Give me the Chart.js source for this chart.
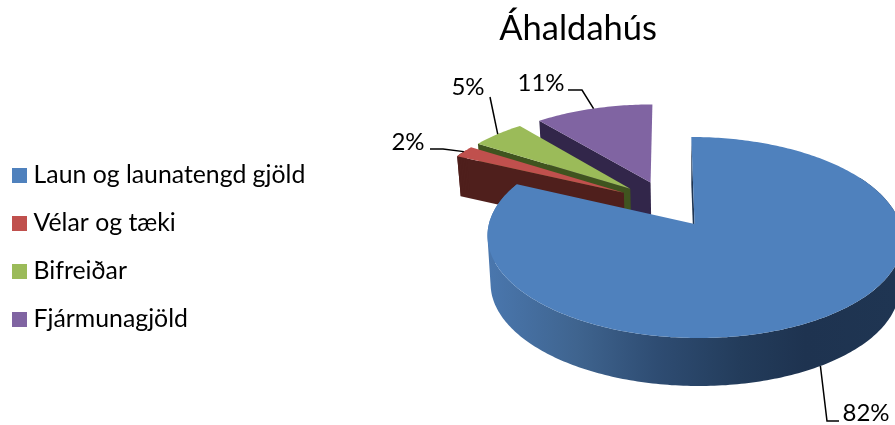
<!DOCTYPE html>
<html>
<head>
<meta charset="utf-8">
<style>
  html, body { margin: 0; padding: 0; background: #fff; }
  canvas { display: block; }
</style>
<script src="https://cdn.jsdelivr.net/npm/chart.js@4"></script>
</head>
<body>
<canvas id="chart" width="895" height="425"></canvas>
<script>
const titleText = 'Áhaldahús';
const categories = ['Laun og launatengd gjöld', 'Vélar og tæki', 'Bifreiðar', 'Fjármunagjöld'];
const shares = [82, 2, 5, 11];
const topColors = ['#4f81bd', '#c0504d', '#9bbb59', '#8064a2'];
const wallColors = ['#1f3552', '#4f1f1c', '#40541f', '#32264a'];
const wallDepths = [48, 40, 40, 40];

// label centres and the leader line bends, in page pixels
const labelSpots = [[866, 413], [408, 142], [468, 87], [541, 83]];
const leaderBends = [
  [[827, 421], [839, 421]],
  [[443, 149], [430, 149]],
  [[490, 97]],
  [[582, 90], [568, 90]]
];

const FONT = 'Lato, "Open Sans", sans-serif';
const TEXT = '#000';

// camera: the pie plane is tilted, near parts are drawn bigger
const view = { x: 667, y: 203.75, tilt: 0.4668, persp: 0.000652, shrink: 0.985, vanishX: 694 };

function project(u, v) {
  const w = 1 - view.persp * v;
  return { x: view.x + u / w, y: view.y + view.tilt * v / w };
}

function lower(p, depth) {
  return { x: view.vanishX + (p.x - view.vanishX) * view.shrink, y: p.y + depth };
}

function rimPoint(arc, angle) {
  const mid = (arc.startAngle + arc.endAngle) / 2;
  const off = arc.options.offset;
  const r = arc.outerRadius;
  return project(Math.cos(angle) * r + Math.cos(mid) * off, Math.sin(angle) * r + Math.sin(mid) * off);
}

function tipPoint(arc) {
  const mid = (arc.startAngle + arc.endAngle) / 2;
  return project(Math.cos(mid) * arc.options.offset, Math.sin(mid) * arc.options.offset);
}

function rimPoints(arc, from, to) {
  const pts = [];
  const steps = Math.max(4, Math.ceil((to - from) * 60));
  for (let i = 0; i <= steps; i++) {
    pts.push(rimPoint(arc, from + (to - from) * i / steps));
  }
  return pts;
}

function tracePoly(ctx, pts) {
  pts.forEach((p, i) => (i ? ctx.lineTo(p.x, p.y) : ctx.moveTo(p.x, p.y)));
  ctx.closePath();
}

function fillPoly(ctx, pts, fill) {
  ctx.beginPath();
  tracePoly(ctx, pts);
  ctx.fillStyle = fill;
  ctx.fill();
}

// strips must all wind the same way or overlapping ones cancel out in one path
function sameWinding(pts) {
  let area = 0;
  pts.forEach((p, i) => {
    const q = pts[(i + 1) % pts.length];
    area += p.x * q.y - q.x * p.y;
  });
  return area < 0 ? pts.slice().reverse() : pts;
}

const pie3d = {
  id: 'pie3d',
  beforeDatasetsDraw(chart) {
    const ctx = chart.ctx;
    const arcs = chart.getDatasetMeta(0).data;
    // purple first, big blue piece last so the front covers the back
    const order = [3, 2, 1, 0];

    order.forEach((i) => {
      const arc = arcs[i];
      const depth = wallDepths[i];
      const tip = tipPoint(arc);

      // the cut face turned towards us
      const edge = rimPoint(arc, arc.startAngle);
      fillPoly(ctx, [tip, edge, lower(edge, depth), lower(tip, depth)], wallColors[i]);

      // the round outer wall, only where it faces us
      const from = Math.max(arc.startAngle, -Math.PI / 6);
      const to = Math.min(arc.endAngle, Math.PI * 7 / 6);
      if (to > from) {
        let fill = wallColors[i];
        if (i === 0) {
          fill = ctx.createLinearGradient(487, 0, 895, 0);
          fill.addColorStop(0, '#4a77ae');
          fill.addColorStop(0.22, '#3f648f');
          fill.addColorStop(0.42, '#2e4c72');
          fill.addColorStop(0.62, '#233c5b');
          fill.addColorStop(0.78, '#1e3350');
          fill.addColorStop(1, '#1f3552');
        }
        // strip by strip in one path, so the silhouette at the sides comes out straight
        const upper = rimPoints(arc, from, to);
        ctx.beginPath();
        for (let k = 0; k < upper.length - 1; k++) {
          tracePoly(ctx, sameWinding([upper[k], upper[k + 1], lower(upper[k + 1], depth), lower(upper[k], depth)]));
        }
        ctx.fillStyle = fill;
        ctx.fill();
      }

      // top face
      fillPoly(ctx, [tip].concat(rimPoints(arc, arc.startAngle, arc.endAngle)), arc.options.backgroundColor);
    });

    // leader lines and percent labels
    ctx.save();
    ctx.strokeStyle = '#000';
    ctx.lineWidth = 1.5;
    ctx.fillStyle = TEXT;
    ctx.font = '24px ' + FONT;
    ctx.textAlign = 'center';
    ctx.textBaseline = 'middle';
    arcs.forEach((arc, i) => {
      const mid = (arc.startAngle + arc.endAngle) / 2;
      let start = rimPoint(arc, mid);
      if (Math.sin(mid) > 0) start = lower(start, wallDepths[i]);
      ctx.beginPath();
      ctx.moveTo(start.x, start.y);
      leaderBends[i].forEach((p) => ctx.lineTo(p[0], p[1]));
      ctx.stroke();
      ctx.fillText(shares[i] + '%', labelSpots[i][0], labelSpots[i][1]);
    });
    ctx.restore();
    return false;
  }
};

function swatch(color) {
  const c = document.createElement('canvas');
  c.width = 15;
  c.height = 15;
  const g = c.getContext('2d');
  g.fillStyle = color;
  g.fillRect(0, 0, 15, 15);
  return c;
}

new Chart(document.getElementById('chart'), {
  type: 'pie',
  data: {
    labels: categories,
    datasets: [{
      data: shares,
      backgroundColor: topColors,
      borderWidth: 0,
      offset: 50,
      radius: 200
    }]
  },
  options: {
    responsive: false,
    animation: false,
    layout: { padding: { left: -6, right: 54 } },
    plugins: {
      tooltip: { enabled: false },
      title: {
        display: true,
        text: titleText,
        fullSize: false,
        color: TEXT,
        font: { family: FONT, size: 34.5, weight: 'normal' },
        padding: { top: 8, bottom: 20 }
      },
      legend: {
        position: 'left',
        fullSize: false,
        labels: {
          color: TEXT,
          font: { family: FONT, size: 24.8 },
          padding: 23.2,
          usePointStyle: true,
          pointStyleWidth: 4,
          boxHeight: 15,
          generateLabels: () => categories.map((name, i) => ({
            text: name,
            fillStyle: topColors[i],
            strokeStyle: topColors[i],
            lineWidth: 0,
            pointStyle: swatch(topColors[i]),
            hidden: false,
            index: i
          }))
        }
      }
    }
  },
  plugins: [pie3d]
});
</script>
</body>
</html>
